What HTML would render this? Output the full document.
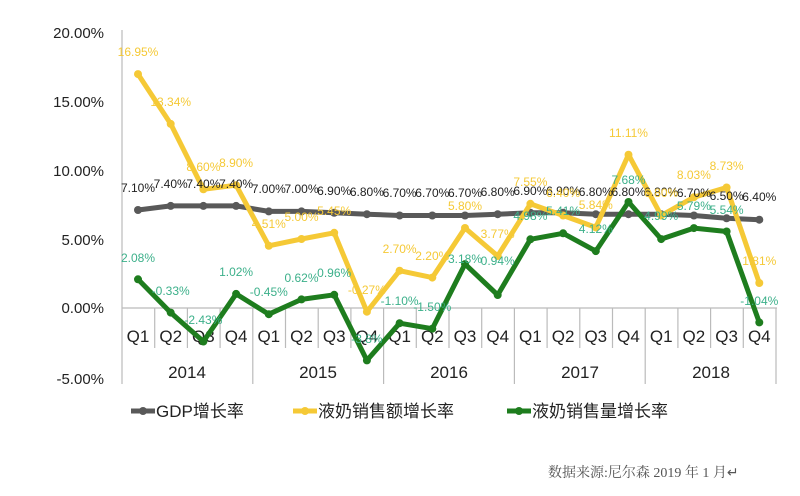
<!DOCTYPE html>
<html><head><meta charset="utf-8"><style>
body{margin:0;background:#fff;width:800px;height:496px;overflow:hidden}
svg{display:block}
text{font-family:"Liberation Sans","Noto Sans CJK SC",sans-serif}
</style></head><body>
<svg width="800" height="496" viewBox="0 0 800 496">
<defs>
<marker id="mg" markerUnits="userSpaceOnUse" markerWidth="10" markerHeight="10" refX="5" refY="5"><circle cx="5" cy="5" r="4" fill="#595959"/></marker>
<marker id="my" markerUnits="userSpaceOnUse" markerWidth="10" markerHeight="10" refX="5" refY="5"><circle cx="5" cy="5" r="4" fill="#f5c936"/></marker>
<marker id="mn" markerUnits="userSpaceOnUse" markerWidth="10" markerHeight="10" refX="5" refY="5"><circle cx="5" cy="5" r="4" fill="#1e7d1e"/></marker>
</defs>
<g font-size="15" fill="#222" text-anchor="end">
<text x="104" y="38">20.00%</text>
<text x="104" y="107">15.00%</text>
<text x="104" y="176">10.00%</text>
<text x="104" y="245">5.00%</text>
<text x="104" y="313">0.00%</text>
<text x="104" y="384">-5.00%</text>
</g>
<g stroke="#bbb" stroke-width="1.2">
<line x1="122" y1="30" x2="122" y2="384"/>
<line x1="122" y1="308" x2="777" y2="308"/>
<line x1="154.7" y1="308" x2="154.7" y2="348"/><line x1="187.4" y1="308" x2="187.4" y2="348"/><line x1="220.1" y1="308" x2="220.1" y2="348"/><line x1="252.8" y1="308" x2="252.8" y2="384"/>
<line x1="285.5" y1="308" x2="285.5" y2="348"/><line x1="318.2" y1="308" x2="318.2" y2="348"/><line x1="350.9" y1="308" x2="350.9" y2="348"/><line x1="383.6" y1="308" x2="383.6" y2="384"/>
<line x1="416.3" y1="308" x2="416.3" y2="348"/><line x1="449" y1="308" x2="449" y2="348"/><line x1="481.7" y1="308" x2="481.7" y2="348"/><line x1="514.4" y1="308" x2="514.4" y2="384"/>
<line x1="547.1" y1="308" x2="547.1" y2="348"/><line x1="579.8" y1="308" x2="579.8" y2="348"/><line x1="612.5" y1="308" x2="612.5" y2="348"/><line x1="645.2" y1="308" x2="645.2" y2="384"/>
<line x1="677.9" y1="308" x2="677.9" y2="348"/><line x1="710.6" y1="308" x2="710.6" y2="348"/><line x1="743.3" y1="308" x2="743.3" y2="348"/><line x1="776" y1="308" x2="776" y2="384"/>
</g>
<g font-size="17" fill="#222" text-anchor="middle">
<text x="138" y="342">Q1</text><text x="170.7" y="342">Q2</text><text x="203.4" y="342">Q3</text><text x="236.1" y="342">Q4</text>
<text x="268.8" y="342">Q1</text><text x="301.5" y="342">Q2</text><text x="334.2" y="342">Q3</text><text x="366.9" y="342">Q4</text>
<text x="399.6" y="342">Q1</text><text x="432.3" y="342">Q2</text><text x="465" y="342">Q3</text><text x="497.7" y="342">Q4</text>
<text x="530.4" y="342">Q1</text><text x="563.1" y="342">Q2</text><text x="595.8" y="342">Q3</text><text x="628.5" y="342">Q4</text>
<text x="661.2" y="342">Q1</text><text x="693.9" y="342">Q2</text><text x="726.6" y="342">Q3</text><text x="759.3" y="342">Q4</text>
<text x="187" y="378">2014</text><text x="318" y="378">2015</text><text x="449" y="378">2016</text><text x="580" y="378">2017</text><text x="711" y="378">2018</text>
</g>
<g fill="none" stroke-width="5" stroke-linejoin="round">
<polyline stroke="#595959" marker-start="url(#mg)" marker-mid="url(#mg)" marker-end="url(#mg)" points="138,210 170.7,205.9 203.4,205.9 236.1,205.9 268.8,211.4 301.5,211.4 334.2,212.8 366.9,214.2 399.6,215.5 432.3,215.5 465,215.5 497.7,214.2 530.4,212.8 563.1,212.8 595.8,214.2 628.5,214.2 661.2,214.2 693.9,215.5 726.6,218.3 759.3,219.7"/>
<polyline stroke="#f5c936" marker-start="url(#my)" marker-mid="url(#my)" marker-end="url(#my)" points="138,74.1 170.7,123.9 203.4,189.3 236.1,185.2 268.8,245.8 301.5,239 334.2,232.8 366.9,311.7 399.6,270.7 432.3,277.6 465,228 497.7,256 530.4,203.8 563.1,215.5 595.8,227.4 628.5,154.7 661.2,215.5 693.9,197.2 726.6,187.5 759.3,283"/>
<polyline stroke="#1e7d1e" marker-start="url(#mn)" marker-mid="url(#mn)" marker-end="url(#mn)" points="138,279.3 170.7,312.6 203.4,341.5 236.1,293.9 268.8,314.2 301.5,299.4 334.2,294.8 366.9,360.4 399.6,323.2 432.3,328.7 465,264.1 497.7,295 530.4,239.3 563.1,233.3 595.8,251.1 628.5,202 661.2,239.1 693.9,228.1 726.6,231.5 759.3,322.4"/>
</g>
<g font-size="12" text-anchor="middle">
<g fill="#222">
<text x="138" y="192">7.10%</text><text x="170.7" y="188">7.40%</text><text x="203.4" y="188">7.40%</text><text x="236.1" y="188">7.40%</text>
<text x="268.8" y="193">7.00%</text><text x="301.5" y="193">7.00%</text><text x="334.2" y="195">6.90%</text><text x="366.9" y="196">6.80%</text>
<text x="399.6" y="197">6.70%</text><text x="432.3" y="197">6.70%</text><text x="465" y="197">6.70%</text><text x="497.7" y="196">6.80%</text>
<text x="530.4" y="195">6.90%</text><text x="563.1" y="195">6.90%</text><text x="595.8" y="196">6.80%</text><text x="628.5" y="196">6.80%</text>
<text x="661.2" y="196">6.80%</text><text x="693.9" y="197">6.70%</text><text x="726.6" y="200">6.50%</text><text x="759.3" y="201">6.40%</text>
</g>
<g fill="#f5c936">
<text x="138" y="56">16.95%</text><text x="170.7" y="106">13.34%</text><text x="203.4" y="171">8.60%</text><text x="236.1" y="167">8.90%</text>
<text x="268.8" y="228">4.51%</text><text x="301.5" y="221">5.00%</text><text x="334.2" y="215">5.45%</text><text x="366.9" y="294">-0.27%</text>
<text x="399.6" y="253">2.70%</text><text x="432.3" y="260">2.20%</text><text x="465" y="210">5.80%</text><text x="497.7" y="238">3.77%</text>
<text x="530.4" y="186">7.55%</text><text x="563.1" y="197">6.40%</text><text x="595.8" y="209">5.84%</text><text x="628.5" y="137">11.11%</text>
<text x="661.2" y="197">6.80%</text><text x="693.9" y="179">8.03%</text><text x="726.6" y="170">8.73%</text><text x="759.3" y="265">1.81%</text>
</g>
<g fill="#3cb08a">
<text x="138" y="262">2.08%</text><text x="170.7" y="295">-0.33%</text><text x="203.4" y="324">-2.43%</text><text x="236.1" y="276">1.02%</text>
<text x="268.8" y="296">-0.45%</text><text x="301.5" y="282">0.62%</text><text x="334.2" y="277">0.96%</text><text x="366.9" y="343">-3.8%</text>
<text x="399.6" y="305">-1.10%</text><text x="432.3" y="311">-1.50%</text><text x="465" y="263">3.18%</text><text x="497.7" y="265">0.94%</text>
<text x="530.4" y="220">4.98%</text><text x="563.1" y="215">5.41%</text><text x="595.8" y="233">4.12%</text><text x="628.5" y="184">7.68%</text>
<text x="661.2" y="220">4.99%</text><text x="693.9" y="210">5.79%</text><text x="726.6" y="214">5.54%</text><text x="759.3" y="305">-1.04%</text>
</g>
</g>
<g font-size="17" fill="#222">
<line x1="131" y1="411" x2="155" y2="411" stroke="#595959" stroke-width="5"/><circle cx="143" cy="411" r="4" fill="#595959"/>
<text x="156" y="417">GDP增长率</text>
<line x1="293" y1="411" x2="317" y2="411" stroke="#f5c936" stroke-width="5"/><circle cx="305" cy="411" r="4" fill="#f5c936"/>
<text x="318" y="417">液奶销售额增长率</text>
<line x1="507" y1="411" x2="531" y2="411" stroke="#1e7d1e" stroke-width="5"/><circle cx="519" cy="411" r="4" fill="#1e7d1e"/>
<text x="532" y="417">液奶销售量增长率</text>
</g>
<text x="548" y="477" font-size="14" fill="#555" style="font-family:'Liberation Serif','Noto Serif CJK SC',serif">数据来源:尼尔森 2019 年 1 月↵</text>
</svg>
</body></html>
